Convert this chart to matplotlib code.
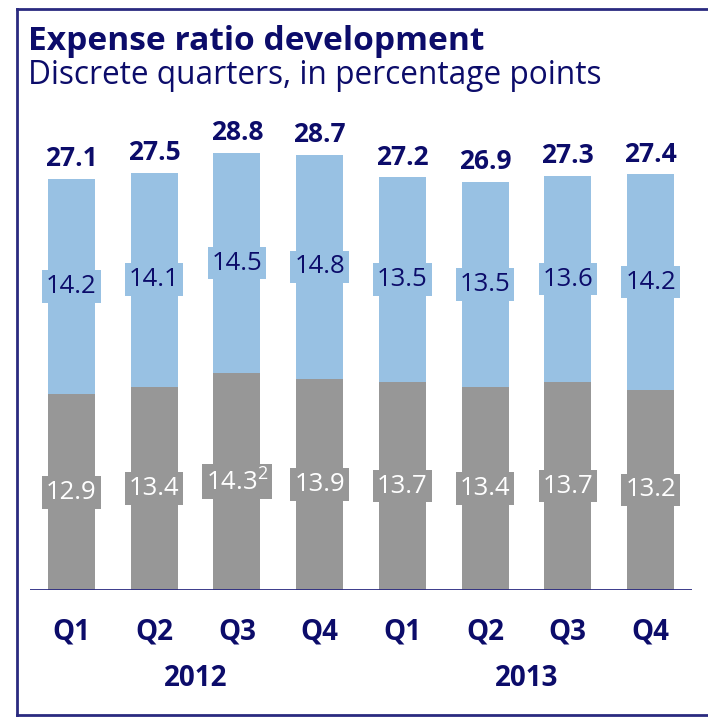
import matplotlib
matplotlib.use("Agg")
import matplotlib.pyplot as plt
from matplotlib.lines import Line2D

# Daten
quarters = ["Q1", "Q2", "Q3", "Q4", "Q1", "Q2", "Q3", "Q4"]
years = ["2012", "2013"]
lower = [12.9, 13.4, 14.3, 13.9, 13.7, 13.4, 13.7, 13.2]
upper = [14.2, 14.1, 14.5, 14.8, 13.5, 13.5, 13.6, 14.2]
totals = [27.1, 27.5, 28.8, 28.7, 27.2, 26.9, 27.3, 27.4]
lower_labels = ["12.9", "13.4", r"14.3$^{\mathregular{2}}$", "13.9", "13.7", "13.4", "13.7", "13.2"]

navy = "#0c0c6a"
blue = "#98c1e3"
grey = "#979797"

plt.rcParams["font.family"] = ["Open Sans", "DejaVu Sans"]

W, H = 708, 717
fig = plt.figure(figsize=(W / 100, H / 100), dpi=100)

# Achsen in Pixeln platzieren
px_per_unit = 15.17
base_y = 590
top_y = 100
ax = fig.add_axes([30 / W, (H - base_y) / H, 662 / W, (base_y - top_y) / H])
ax.set_xlim(-0.5, 7.5)
ax.set_ylim(0, (base_y - top_y) / px_per_unit)
ax.axis("off")

x = list(range(len(quarters)))
ax.bar(x, lower, width=0.57, color=grey, zorder=2)
ax.bar(x, upper, width=0.57, bottom=lower, color=blue, zorder=2)
ax.axhline(0, color="#2a2a80", lw=2, zorder=3)

for i in x:
    ax.text(i, totals[i] + 0.45, f"{totals[i]:.1f}", ha="center", va="bottom",
            fontsize=19, fontweight="bold", color=navy)
    ax.text(i, lower[i] + upper[i] / 2, f"{upper[i]:.1f}", ha="center", va="center",
            fontsize=18.5, color=navy, zorder=4,
            bbox=dict(boxstyle="square,pad=0.15", fc=blue, ec="none"))
    ax.text(i, lower[i] / 2, lower_labels[i], ha="center", va="center",
            fontsize=18.5, color="white", zorder=4,
            bbox=dict(boxstyle="square,pad=0.15", fc=grey, ec="none"))
    ax.text(i, -2.75, quarters[i], ha="center", va="center",
            fontsize=20, fontweight="bold", color=navy)

for j, yr in enumerate(years):
    ax.text(1.5 + 4 * j, -5.85, yr, ha="center", va="center",
            fontsize=20, fontweight="bold", color=navy)

# Titel, Breite an Vorlage anpassen
def fit_text(txt, x0, y0, width, size, **kw):
    t = fig.text(x0 / W, 1 - y0 / H, txt, ha="left", va="baseline",
                 fontsize=size, color=navy, **kw)
    r = fig.canvas.get_renderer()
    w = t.get_window_extent(renderer=r).width
    t.set_fontsize(size * width / w)
    return t

fit_text("Expense ratio development", 28, 50, 455, 21, fontweight="bold")
fit_text("Discrete quarters, in percentage points", 28, 84, 575, 21)

# Rahmen
fig.add_artist(Line2D([17 / W, 17 / W], [1 - 9 / H, 1 - 715 / H], color="#2a2a80", lw=2))
fig.add_artist(Line2D([17 / W, 1], [1 - 9 / H, 1 - 9 / H], color="#2a2a80", lw=2))
fig.add_artist(Line2D([17 / W, 1], [1 - 715 / H, 1 - 715 / H], color="#2a2a80", lw=2))

fig.savefig("out.png", dpi=100)
